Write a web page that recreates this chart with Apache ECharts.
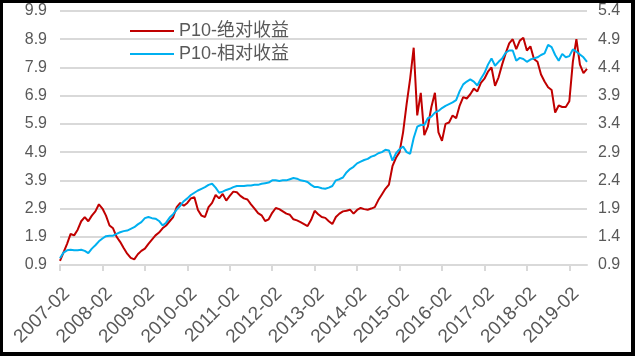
<!DOCTYPE html>
<html>
<head>
<meta charset="utf-8">
<script src="https://cdn.jsdelivr.net/npm/echarts@6/dist/echarts.min.js"></script>
<style>
html,body{margin:0;padding:0;background:#000;width:635px;height:356px;overflow:hidden;}
#c{position:absolute;left:3px;top:3px;width:628px;height:349px;background:#fff;}
</style>
</head>
<body>
<div id="c"></div>
<script>
// Monthly categories 2007-02 .. 2019-07
const startYear = 2007, startMonth = 2, monthCount = 150;
const categories = [];
for (let i = 0; i < monthCount; i++) {
  const t = startMonth - 1 + i;
  const y = startYear + Math.floor(t / 12);
  const m = (t % 12) + 1;
  categories.push(y + '-' + (m < 10 ? '0' + m : m));
}

const seriesNames = ['P10-绝对收益', 'P10-相对收益'];

// P10 absolute return (left axis)
const absoluteValues = [
  1.05,1.35,1.65,2.0,1.95,2.15,2.45,2.6,2.45,2.65,
  2.8,3.05,2.9,2.65,2.3,2.2,1.9,1.72,1.5,1.3,
  1.15,1.1,1.28,1.4,1.48,1.65,1.8,1.95,2.05,2.2,
  2.3,2.45,2.6,2.95,3.1,3.0,3.1,3.26,3.3,2.85,
  2.65,2.6,2.95,3.1,3.38,3.26,3.42,3.18,3.35,3.5,
  3.48,3.35,3.26,3.22,3.05,2.9,2.74,2.66,2.46,2.52,
  2.75,2.92,2.88,2.8,2.72,2.68,2.52,2.48,2.42,2.35,
  2.28,2.5,2.82,2.7,2.6,2.57,2.45,2.35,2.6,2.72,
  2.8,2.82,2.86,2.72,2.85,2.92,2.88,2.86,2.9,2.95,
  3.2,3.4,3.6,3.75,4.4,4.7,4.9,5.6,6.6,7.5,
  8.6,6.2,7.0,5.5,5.8,6.5,7.0,5.6,5.3,5.9,
  5.95,6.2,6.1,6.55,6.85,6.8,6.95,7.15,7.05,7.35,
  7.5,7.75,7.9,7.25,7.55,8.0,8.4,8.75,8.9,8.55,
  8.85,8.95,8.5,8.65,8.2,8.1,7.65,7.4,7.2,7.1,
  6.3,6.55,6.5,6.5,6.7,8.1,8.9,8.0,7.7,7.85
];

// P10 relative return (right axis)
const relativeValues = [
  1.02,1.12,1.16,1.17,1.16,1.16,1.17,1.15,1.11,1.19,
  1.25,1.32,1.37,1.41,1.42,1.42,1.45,1.48,1.50,1.51,
  1.54,1.57,1.62,1.66,1.73,1.75,1.73,1.72,1.68,1.6,
  1.65,1.74,1.8,1.88,1.95,2.03,2.08,2.14,2.18,2.22,
  2.25,2.28,2.32,2.34,2.27,2.18,2.2,2.23,2.25,2.28,
  2.3,2.3,2.3,2.31,2.31,2.32,2.32,2.34,2.35,2.36,
  2.4,2.4,2.39,2.4,2.4,2.42,2.44,2.43,2.4,2.39,
  2.37,2.32,2.28,2.28,2.26,2.25,2.27,2.3,2.4,2.42,
  2.45,2.54,2.6,2.64,2.7,2.73,2.76,2.78,2.82,2.84,
  2.88,2.9,2.94,2.93,2.75,2.88,2.95,3.0,2.9,2.87,
  3.15,3.35,3.38,3.38,3.5,3.53,3.6,3.63,3.68,3.72,
  3.75,3.78,3.82,3.98,4.1,4.15,4.19,4.15,4.08,4.2,
  4.3,4.45,4.56,4.43,4.5,4.56,4.66,4.7,4.7,4.52,
  4.57,4.55,4.5,4.54,4.56,4.58,4.62,4.65,4.8,4.76,
  4.62,4.52,4.64,4.58,4.6,4.72,4.68,4.63,4.58,4.5
];

const leftAxis = { min: 0.9, max: 9.9, interval: 1 };
const rightAxis = { min: 0.9, max: 5.4, interval: 0.5 };

const textColor = '#595959';
const fontFamily = '"Liberation Sans", Arial, "Noto Sans CJK SC", sans-serif';

const chart = echarts.init(document.getElementById('c'), null, { renderer: 'canvas' });
chart.setOption({
  animation: false,
  backgroundColor: '#fff',
  textStyle: { fontFamily: fontFamily },
  grid: { left: 57, right: 44, top: 1.5, bottom: 87, containLabel: false },
  legend: {
    orient: 'vertical',
    left: 122,
    top: 14,
    itemGap: 5,
    itemWidth: 44,
    itemHeight: 2,
    icon: 'rect',
    textStyle: { color: textColor, fontSize: 18, fontFamily: fontFamily },
    data: seriesNames
  },
  xAxis: {
    type: 'category',
    boundaryGap: false,
    data: categories,
    axisLine: { show: true, lineStyle: { color: '#d9d9d9', width: 2 } },
    axisTick: { show: true, interval: 11, length: 6, lineStyle: { color: '#d9d9d9', width: 2 } },
    axisLabel: { interval: 11, rotate: 45, color: textColor, fontSize: 19, margin: 19, verticalAlign: 'top', fontFamily: fontFamily },
    splitLine: { show: false }
  },
  yAxis: [
    {
      type: 'value',
      min: leftAxis.min, max: leftAxis.max, interval: leftAxis.interval,
      axisLine: { show: false }, axisTick: { show: false },
      axisLabel: { color: textColor, fontSize: 16, margin: 13, formatter: v => v.toFixed(1), fontFamily: fontFamily },
      splitLine: { show: true, lineStyle: { color: '#d9d9d9', width: 2 } }
    },
    {
      type: 'value',
      min: rightAxis.min, max: rightAxis.max, interval: rightAxis.interval,
      axisLine: { show: false }, axisTick: { show: false },
      axisLabel: { color: textColor, fontSize: 16, margin: 11, formatter: v => v.toFixed(1), fontFamily: fontFamily },
      splitLine: { show: false }
    }
  ],
  series: [
    {
      name: seriesNames[0], type: 'line', yAxisIndex: 0,
      data: absoluteValues, showSymbol: false, symbol: 'none',
      lineStyle: { color: '#c00000', width: 2 }, itemStyle: { color: '#c00000' }
    },
    {
      name: seriesNames[1], type: 'line', yAxisIndex: 1,
      data: relativeValues, showSymbol: false, symbol: 'none',
      lineStyle: { color: '#00b0f0', width: 2 }, itemStyle: { color: '#00b0f0' }
    }
  ]
});
</script>
</body>
</html>
